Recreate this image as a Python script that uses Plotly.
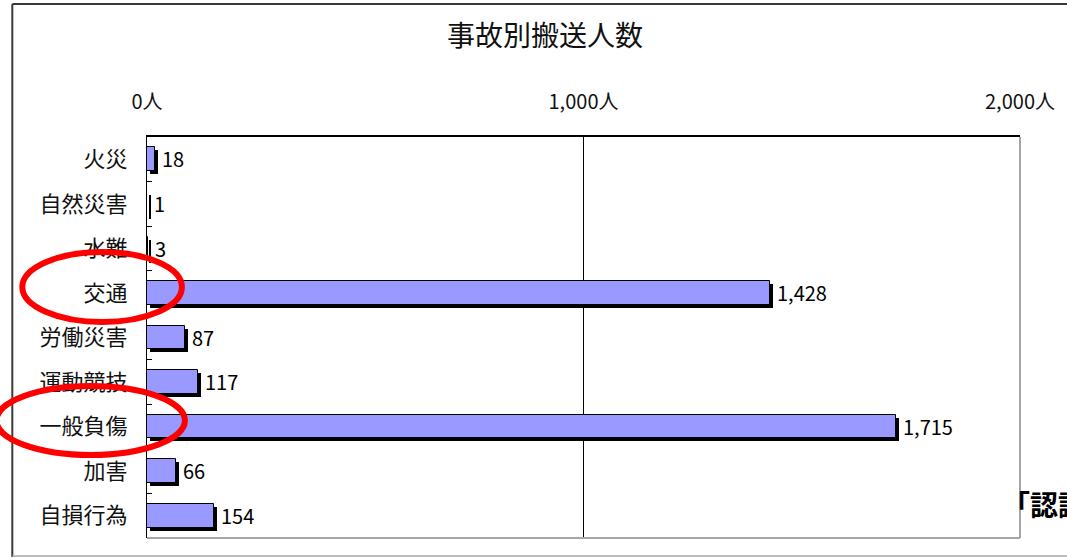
import plotly.graph_objects as go

# Transport counts by accident type
categories = ["火災", "自然災害", "水難", "交通", "労働災害", "運動競技", "一般負傷", "加害", "自損行為"]
counts = [18, 1, 3, 1428, 87, 117, 1715, 66, 154]
x_tick_values = [0, 1000, 2000]
x_tick_labels = ["0人", "1,000人", "2,000人"]
title_text = "事故別搬送人数"
side_note = "<b>「認識」</b>"

# Canvas and plot-area geometry (pixels)
W, H = 1067, 557
M_L, M_R, M_T, M_B = 147, 45, 137, 19
PW = W - M_L - M_R
PH = H - M_T - M_B
X_MAX = 2000
BAR_W = 0.53
SHADOW_PX = 3

FONT = "Noto Sans CJK JP, sans-serif"
BAR_FILL = "#9999FF"
RING = "#FF0000"
FRAME_DARK = "#3a3a3a"
FRAME_GRAY = "#a6a6a6"

shadow_dx = SHADOW_PX / (PW / X_MAX)
shadow_dy = SHADOW_PX / (PH / len(categories))


def paper_x(px):
    return (px - M_L) / PW


def paper_y(py):
    return (H - M_B - py) / PH


fig = go.Figure()

# drop shadow behind each bar
fig.add_trace(go.Bar(
    y=categories, x=counts, base=shadow_dx, orientation="h",
    width=BAR_W, offset=-BAR_W / 2 + shadow_dy,
    marker=dict(color="black", line=dict(width=0)),
    hoverinfo="skip", showlegend=False,
))

# main bars with value labels
fig.add_trace(go.Bar(
    y=categories, x=counts, orientation="h",
    width=BAR_W, offset=-BAR_W / 2,
    marker=dict(color=BAR_FILL, line=dict(color="black", width=1)),
    texttemplate=" %{x:,}", textposition="outside", constraintext="none",
    textfont=dict(family=FONT, size=20, color="black"),
    cliponaxis=False, showlegend=False,
))

shapes = [
    # plot-area border (right and bottom)
    dict(type="line", xref="paper", yref="paper", x0=1, x1=1, y0=0, y1=1,
         line=dict(color=FRAME_GRAY, width=2)),
    dict(type="line", xref="paper", yref="paper", x0=0, x1=1, y0=0, y1=0,
         line=dict(color=FRAME_GRAY, width=2)),
    # outer chart frame
    dict(type="line", xref="paper", yref="paper",
         x0=paper_x(12), x1=paper_x(W + 10), y0=paper_y(4), y1=paper_y(4),
         line=dict(color=FRAME_DARK, width=2)),
    dict(type="line", xref="paper", yref="paper",
         x0=paper_x(12), x1=paper_x(12), y0=paper_y(4), y1=paper_y(H + 5),
         line=dict(color=FRAME_DARK, width=2)),
    dict(type="line", xref="paper", yref="paper",
         x0=paper_x(12), x1=paper_x(W + 10), y0=paper_y(556), y1=paper_y(556),
         line=dict(color=FRAME_GRAY, width=1.5)),
    # highlight rings
    dict(type="circle", xref="paper", yref="paper", layer="above",
         x0=paper_x(22), x1=paper_x(182), y0=paper_y(322), y1=paper_y(252),
         line=dict(color=RING, width=6)),
    dict(type="circle", xref="paper", yref="paper", layer="above",
         x0=paper_x(-4), x1=paper_x(185), y0=paper_y(455), y1=paper_y(386),
         line=dict(color=RING, width=6)),
]

fig.update_layout(
    width=W, height=H,
    margin=dict(l=M_L, r=M_R, t=M_T, b=M_B, pad=0),
    paper_bgcolor="white", plot_bgcolor="white",
    barmode="overlay", bargap=0,
    font=dict(family=FONT, color="black"),
    title=dict(text=title_text, xref="container", yref="container",
               x=545 / W, y=1 - 36 / H, xanchor="center", yanchor="middle",
               font=dict(family=FONT, size=28, color="#111111")),
    xaxis=dict(
        side="top", range=[0, X_MAX], tickmode="array",
        tickvals=x_tick_values, ticktext=x_tick_labels,
        tickfont=dict(family=FONT, size=20, color="#111111"),
        showgrid=True, gridcolor="black", gridwidth=1, zeroline=False,
        showline=True, linecolor="black", linewidth=2,
        ticks="", ticklabelstandoff=18, fixedrange=True,
    ),
    yaxis=dict(
        type="category", categoryorder="array", categoryarray=categories,
        range=[len(categories) - 0.5, -0.5],
        tickfont=dict(family=FONT, size=22, color="#111111"),
        ticks="inside", ticklen=5, tickcolor="black", tickwidth=1,
        tickson="boundaries", showgrid=False, zeroline=False,
        showline=True, linecolor="black", linewidth=1,
        ticklabelstandoff=14, fixedrange=True,
    ),
    shapes=shapes,
    annotations=[
        dict(text=side_note, xref="paper", yref="paper",
             x=paper_x(1002), y=paper_y(504), xanchor="left", yanchor="middle",
             showarrow=False, font=dict(family=FONT, size=28, color="black")),
    ],
)

fig.write_html("out.html")
